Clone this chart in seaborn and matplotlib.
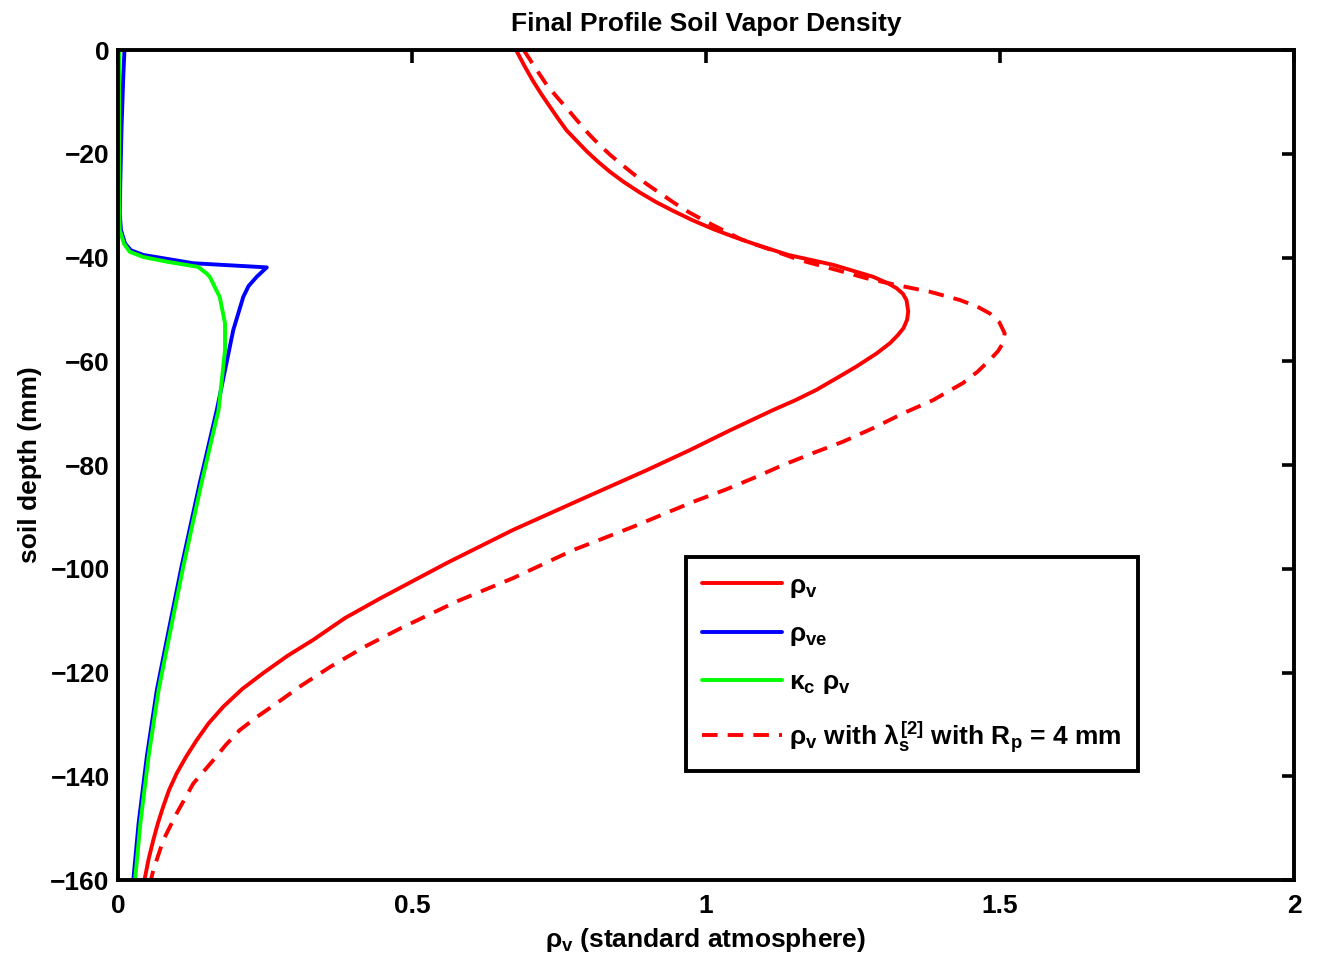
import numpy as np
import pandas as pd
import matplotlib
matplotlib.use("Agg")
import matplotlib.pyplot as plt
import seaborn as sns

# Vapor density profiles against soil depth (mm, negative downward)
depth_rho_v = [0, -3, -6, -8.5, -11, -13.3, -15.5, -17.5, -19.5, -21.5, -23.5, -25.5,
               -27.5, -29.3, -31, -32.8, -34.5, -36, -37.5, -39.5,
               -41.4, -43.7, -45.0, -45.9, -47.0, -48.2, -50.4, -52.0, -53.6, -55.0,
               -56.5, -58.5, -61, -63, -65.5, -67.5, -69.4, -73.3, -77.1, -81, -86.7,
               -92.5, -98.9, -105.7, -109.5, -113.7, -116.8, -120.1, -123.2, -126.6,
               -129.8, -133, -136.2, -139.4, -142.6, -145.8, -149, -152.3, -156, -160]
rho_v = [0.677, 0.691, 0.706, 0.720, 0.735, 0.749, 0.763, 0.780, 0.797, 0.816, 0.837, 0.861,
         0.888, 0.915, 0.944, 0.977, 1.012, 1.047, 1.085, 1.140,
         1.216, 1.284, 1.310, 1.324, 1.335, 1.341, 1.344, 1.342, 1.336, 1.326,
         1.313, 1.290, 1.256, 1.226, 1.188, 1.152, 1.114, 1.041, 0.973, 0.899, 0.786,
         0.672, 0.559, 0.446, 0.386, 0.332, 0.288, 0.247, 0.211, 0.179,
         0.154, 0.134, 0.116, 0.100, 0.087, 0.077, 0.068, 0.060, 0.052, 0.045]

depth_rho_ve = [0, -5, -15, -25, -31.5, -34.7, -37.3, -38.6, -39.5, -41.1, -41.9,
                -43.7, -45.5, -47.6, -54.0, -61.7, -69.4, -83.5, -99.6, -113.7,
                -123.4, -136.2, -149.1, -160]
rho_ve = [0.011, 0.009, 0.006, 0.004, 0.003, 0.005, 0.012, 0.022, 0.043, 0.128, 0.253,
          0.236, 0.222, 0.213, 0.196, 0.182, 0.168, 0.139, 0.108, 0.083,
          0.066, 0.049, 0.035, 0.026]

depth_kc_rho_v = [0, -20, -31.5, -34.7, -37.3, -38.9, -39.9, -40.8, -41.8, -43.1,
                  -43.7, -47.6, -52.7, -57.8, -64.2, -69.4, -83.5, -99.6, -113.7,
                  -123.4, -136.2, -149.1, -160]
kc_rho_v = [0.002, 0.002, 0.002, 0.003, 0.010, 0.020, 0.043, 0.083, 0.136, 0.151,
            0.156, 0.173, 0.182, 0.182, 0.176, 0.171, 0.142, 0.111, 0.086,
            0.069, 0.052, 0.038, 0.029]

depth_rho_v_rp4 = [0, -3.3, -6.7, -9.0, -11.2, -13.6, -16.1, -18.2, -20.2, -22.1, -24.1,
                   -25.9, -27.6, -29.4, -31.2, -32.7, -34.1, -36.5,
                   -40.5, -42.4, -44.0, -45.3, -46.6, -48.2, -49.5, -50.8, -52.5,
                   -54.6, -56.5, -58.0, -59.7, -62.0, -64.2, -67.5, -70.0, -72.9,
                   -75.5, -77.7, -80.0, -82.6, -84.8, -87.1, -91.9, -96.4, -101.8,
                   -106.3, -111.5, -115.0, -118.9, -122.5, -125.9, -128.5, -131.1,
                   -134.0, -136.9, -141.4, -147.1, -152.3, -158.1, -160]
rho_v_rp4 = [0.690, 0.709, 0.729, 0.746, 0.763, 0.781, 0.800, 0.818, 0.837, 0.857, 0.879,
             0.900, 0.922, 0.945, 0.970, 0.994, 1.018, 1.060,
             1.160, 1.222, 1.273, 1.324, 1.381, 1.432, 1.462, 1.483, 1.499,
             1.508, 1.505, 1.497, 1.483, 1.462, 1.437, 1.386, 1.336, 1.284,
             1.233, 1.182, 1.131, 1.079, 1.032, 0.978, 0.876, 0.774, 0.672,
             0.576, 0.480, 0.420, 0.361, 0.312, 0.270, 0.237, 0.207,
             0.183, 0.162, 0.128, 0.100, 0.077, 0.060, 0.056]

series_labels = [
    r"$\rho_\mathbf{v}$",
    r"$\rho_\mathbf{ve}$",
    r"$\kappa_\mathbf{c}\ \rho_\mathbf{v}$",
    r"$\rho_\mathbf{v}$ with $\lambda_\mathbf{s}^\mathbf{[2]}$ with R$_\mathbf{p}$ = 4 mm",
]

x_ticks = [0, 0.5, 1, 1.5, 2]
x_tick_labels = ["0", "0.5", "1", "1.5", "2"]
y_ticks = [0, -20, -40, -60, -80, -100, -120, -140, -160]

FS = 19

sns.set_style("white")
plt.rcParams["font.family"] = ["Liberation Sans", "DejaVu Sans"]
plt.rcParams["font.weight"] = "bold"
plt.rcParams["mathtext.fontset"] = "custom"
plt.rcParams["mathtext.rm"] = "Liberation Sans"
plt.rcParams["mathtext.it"] = "Liberation Sans"
plt.rcParams["mathtext.bf"] = "Liberation Sans:bold"
plt.rcParams["axes.unicode_minus"] = True
for key in ["text.color", "axes.labelcolor", "xtick.color", "ytick.color",
            "xtick.labelcolor", "ytick.labelcolor"]:
    plt.rcParams[key] = "black"

fig = plt.figure(figsize=(13.17, 9.64), dpi=100)
ax = fig.add_axes([0.0896, 0.0871, 0.8929, 0.8610])

frames = [
    pd.DataFrame({"x": rho_v, "depth": depth_rho_v}),
    pd.DataFrame({"x": rho_ve, "depth": depth_rho_ve}),
    pd.DataFrame({"x": kc_rho_v, "depth": depth_kc_rho_v}),
    pd.DataFrame({"x": rho_v_rp4, "depth": depth_rho_v_rp4}),
]
colors = ["#ff0000", "#0000ff", "#00ff00", "#ff0000"]
styles = [dict(), dict(), dict(), dict(dashes=(4, 2.6))]

for df, c, lab, st in zip(frames, colors, series_labels, styles):
    sns.lineplot(data=df, x="x", y="depth", sort=False, estimator=None,
                 color=c, linewidth=2.8, label=lab, ax=ax, **st)

ax.set_xlim(0, 2)
ax.set_ylim(-160, 0)
ax.set_xticks(x_ticks)
ax.set_xticklabels(x_tick_labels)
ax.set_yticks(y_ticks)

for s in ax.spines.values():
    s.set_linewidth(2.8)
    s.set_color("black")
    s.set_visible(True)

ax.tick_params(axis="both", which="major", direction="in", length=9, width=2.6,
               top=True, right=True, labelsize=FS, colors="black")
ax.tick_params(axis="x", pad=10)
ax.tick_params(axis="y", pad=6)
for lbl in ax.get_xticklabels() + ax.get_yticklabels():
    lbl.set_fontweight("bold")

ax.set_title("Final Profile Soil Vapor Density", fontsize=FS, fontweight="bold", pad=14)
ax.set_xlabel(r"$\rho_\mathbf{v}$ (standard atmosphere)", fontsize=FS, fontweight="bold", labelpad=6)
ax.set_ylabel("soil depth (mm)", fontsize=FS, fontweight="bold", labelpad=6)

leg = ax.legend(loc="upper left", bbox_to_anchor=(0.483, 0.389), fontsize=FS,
                frameon=True, fancybox=False, framealpha=1, edgecolor="black",
                handlelength=3.0, handletextpad=0.3, labelspacing=0.85,
                borderpad=0.62, borderaxespad=0)
leg.get_frame().set_linewidth(2.8)
for t in leg.get_texts():
    t.set_fontweight("bold")

fig.savefig("out.png", dpi=100, facecolor="white")
